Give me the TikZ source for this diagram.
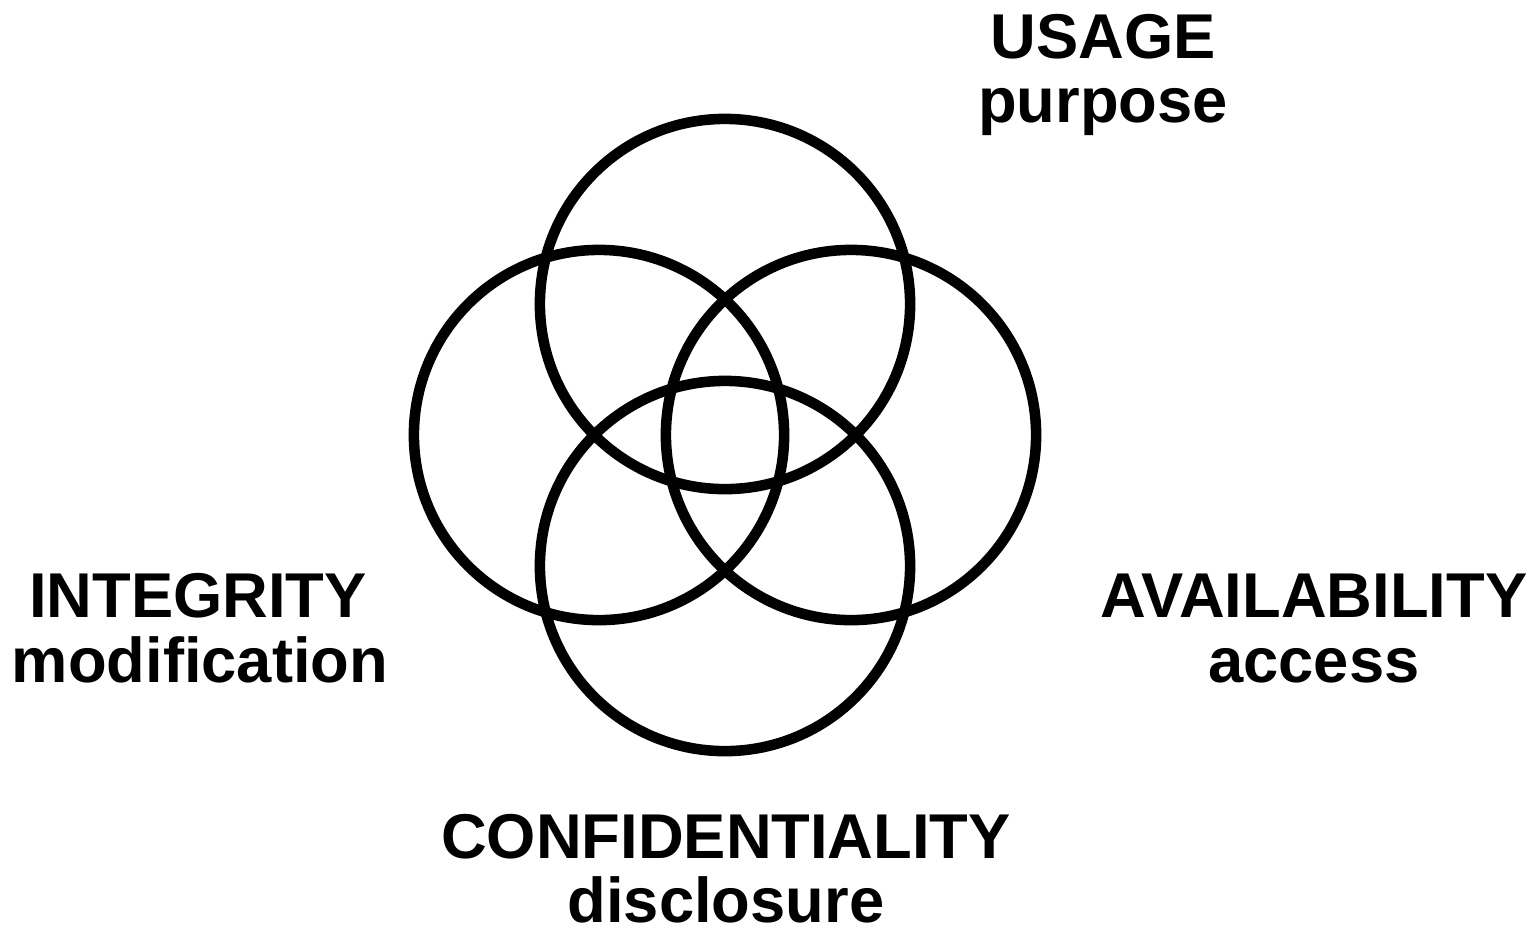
\documentclass[tikz,border=0pt]{standalone}
\usepackage{fontspec}
\setmainfont{Liberation Sans}
\begin{document}
\begin{tikzpicture}[x=0.01cm,y=-0.01cm,
  ring/.style={draw=black, line width=3pt, circle, inner sep=0pt, minimum size=3.7cm},
  titletext/.style={anchor=base, inner sep=0pt, font=\fontsize{18}{21}\selectfont\bfseries},
  subtext/.style={anchor=base, inner sep=0pt, font=\fontsize{18}{21}\selectfont\bfseries}]
\useasboundingbox[fill=white] (0,0) rectangle (1536,929);
\node[ring] (ctop) at (725,304) {};
\node[ring] (cleft) at (599,435) {};
\node[ring] (cright) at (851,435) {};
\node[ring] (cbottom) at (725,566) {};
\node[titletext] (usage) at (1103,58) {USAGE};
\node[subtext] (purpose) at (1103,122) {purpose};
\node[titletext] (integrity) at (198,617) {INTEGRITY};
\node[subtext] (modification) at (200,682) {modification};
\node[titletext] (availability) at (1314,617) {AVAILABILITY};
\node[subtext] (access) at (1314,682) {access};
\node[titletext] (confidentiality) at (726,858) {CONFIDENTIALITY};
\node[subtext] (disclosure) at (726,922) {disclosure};
\end{tikzpicture}
\end{document}
